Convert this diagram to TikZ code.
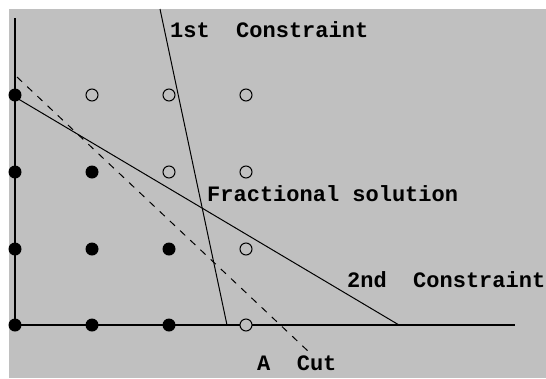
\documentclass[tikz,border=0pt]{standalone}
\usepackage{fontspec}
\setmonofont{Liberation Mono}
\definecolor{panel}{RGB}{192,192,192}

\begin{document}
\begin{tikzpicture}[x=1pt, y=-1pt,
  feasible/.style={circle, fill=black, minimum size=13pt, inner sep=0pt},
  infeasible/.style={circle, draw=black, fill=panel, line width=1pt, minimum size=12pt, inner sep=0pt},
  tag/.style={font=\ttfamily\bfseries\fontsize{22}{22}\selectfont, inner sep=0pt, anchor=base west},
  constraint/.style={line width=1pt},
  axis/.style={line width=2pt}]
  \useasboundingbox (0,0) rectangle (546,378);
  \fill[white] (0,0) rectangle (546,378);
  \fill[panel] (9,9) rectangle (546,378);
  \clip (0,0) rectangle (546,378);

  % end points of the lines (pixel coords, y grows downwards)
  \coordinate (origin) at (15,325);
  \coordinate (ytop) at (15,18);
  \coordinate (xend) at (515,325);
  \coordinate (c1top) at (160,9);
  \coordinate (c1bot) at (227,325);
  \coordinate (c2top) at (15,97);
  \coordinate (c2bot) at (399,325);
  \coordinate (cuttop) at (17,77);
  \coordinate (cutbot) at (309,352);

  % Axes
  \draw[axis] (ytop) -- (origin) -- (xend);

  % 1st and 2nd constraint
  \draw[constraint] (c1top) -- (c1bot);
  \draw[constraint] (c2top) -- (c2bot);

  % the cut
  \draw[constraint, dash pattern=on 7pt off 7pt] (cuttop) -- (cutbot);

  % Integer points, top row first
  \node[feasible]   (p03) at (15,95)  {};
  \node[infeasible] (p13) at (92,95)  {};
  \node[infeasible] (p23) at (169,95) {};
  \node[infeasible] (p33) at (246,95) {};

  \node[feasible]   (p02) at (15,172)  {};
  \node[feasible]   (p12) at (92,172)  {};
  \node[infeasible] (p22) at (169,172) {};
  \node[infeasible] (p32) at (246,172) {};

  \node[feasible]   (p01) at (15,249)  {};
  \node[feasible]   (p11) at (92,249)  {};
  \node[feasible]   (p21) at (169,249) {};
  \node[infeasible] (p31) at (246,249) {};

  \node[feasible]   (p00) at (15,325)  {};
  \node[feasible]   (p10) at (92,325)  {};
  \node[feasible]   (p20) at (169,325) {};
  \node[infeasible] (p30) at (246,325) {};

  % Labels
  \node[tag] (first) at (170,37) {1st\ \ Constraint};
  \node[tag] (frac) at (207,201) {Fractional solution};
  \node[tag] (second) at (347,287) {2nd\ \ Constraint};
  \node[tag] (cut) at (257,370) {A\ \ Cut};
\end{tikzpicture}
\end{document}
